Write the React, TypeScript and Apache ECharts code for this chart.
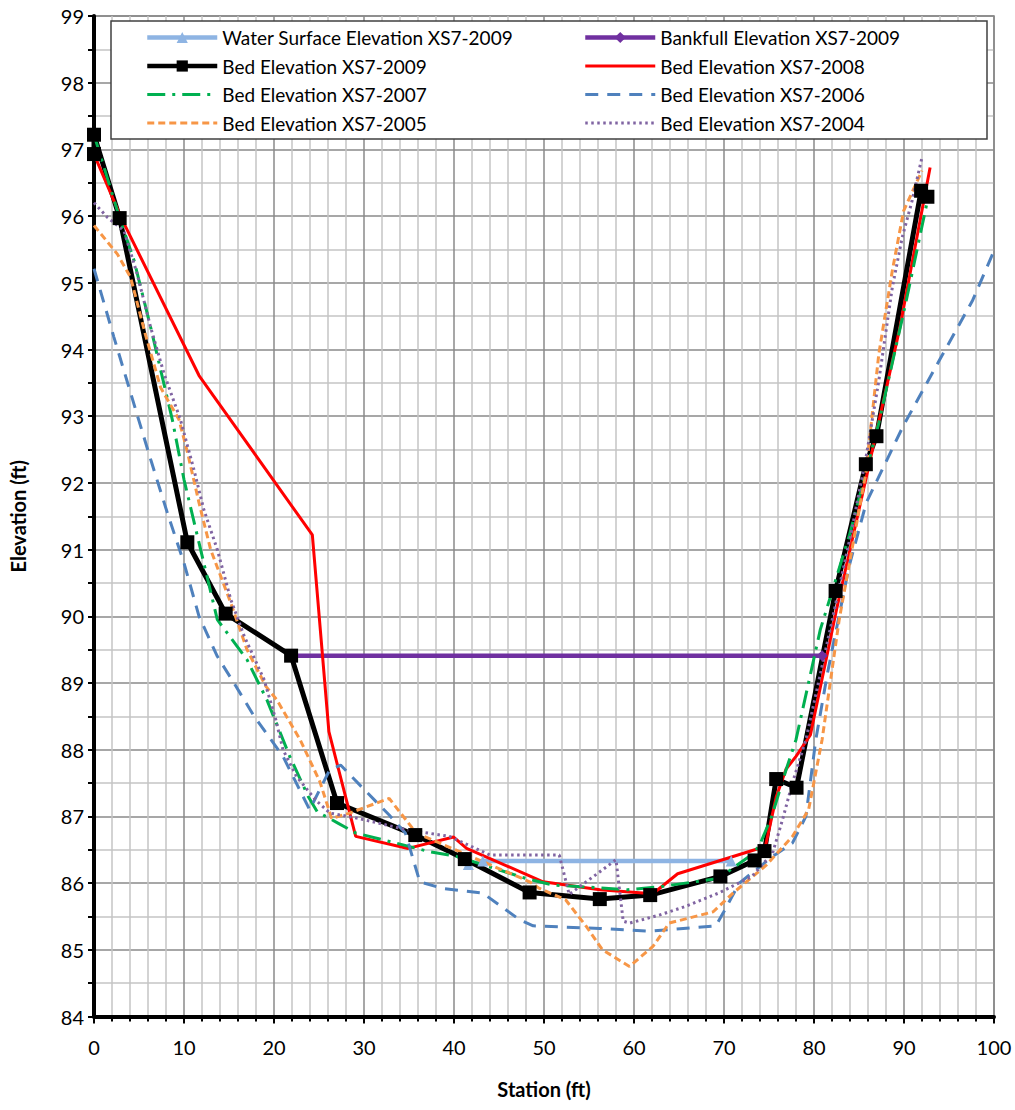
import React, { useEffect, useRef } from 'react';
import * as echarts from 'echarts';

const FONT = 'Lato, "Noto Sans", "DejaVu Sans", sans-serif';

const xTicks = [0, 10, 20, 30, 40, 50, 60, 70, 80, 90, 100];
const yTicks = [84, 85, 86, 87, 88, 89, 90, 91, 92, 93, 94, 95, 96, 97, 98, 99];

const waterSurface2009: [number, number][] = [
  [41.6, 86.28], [43.2, 86.33], [70.8, 86.33],
];

const bankfull2009: [number, number][] = [
  [21.9, 89.41], [80.9, 89.41],
];

const bed2009: [number, number][] = [
  [0, 96.93], [0, 97.22], [2.85, 95.97], [10.37, 91.11], [14.63, 90.04], [21.9, 89.41],
  [27.0, 87.2], [35.7, 86.72], [41.2, 86.36], [48.4, 85.86], [56.2, 85.76], [61.8, 85.82],
  [69.6, 86.1], [73.4, 86.34], [74.5, 86.48], [75.8, 87.56], [78.06, 87.43], [82.4, 90.38],
  [85.76, 92.28], [86.94, 92.7], [91.9, 96.38], [92.6, 96.29],
];

const bed2008: [number, number][] = [
  [0, 96.93], [3.0, 95.98], [11.67, 93.61], [24.26, 91.22], [26.1, 88.27], [29.08, 86.7],
  [34.9, 86.52], [39.96, 86.69], [41.4, 86.52], [49.9, 86.02], [56.2, 85.9], [62.1, 85.84],
  [64.85, 86.14], [74.6, 86.55], [75.8, 87.29], [76.9, 87.71], [78.0, 87.9], [79.6, 88.22],
  [82.5, 90.1], [86.5, 92.5], [89.5, 94.3], [92.9, 96.73],
];

const bed2007: [number, number][] = [
  [0, 97.22], [2.85, 95.97], [4.44, 95.34], [6.3, 94.33], [8.7, 92.95], [10.0, 92.05],
  [11.67, 91.1], [13.7, 89.95], [17.0, 89.35], [19.2, 88.75], [21.75, 87.9], [23.8, 87.3],
  [24.8, 87.07], [27.1, 86.9], [29.1, 86.75], [32.1, 86.65], [37.3, 86.47], [40.3, 86.4],
  [48.0, 86.07], [51.0, 85.97], [56.2, 85.93], [59.3, 85.9], [63.1, 85.95], [69.4, 86.07],
  [72.8, 86.4], [73.9, 86.55], [75.3, 87.0], [76.9, 87.7], [78.0, 88.15], [80.7, 89.8],
  [83.9, 91.2], [87.2, 92.9], [90.2, 94.7], [92.6, 96.23],
];

const bed2006: [number, number][] = [
  [0, 95.21], [2.2, 94.19], [5.0, 92.93], [6.3, 92.35], [8.15, 91.55], [10.0, 90.8],
  [11.67, 90.0], [13.7, 89.4], [15.55, 89.0], [17.8, 88.5], [21.0, 87.9], [23.96, 87.1],
  [26.2, 87.7], [27.4, 87.77], [29.9, 87.42], [32.8, 87.02], [34.6, 86.75], [36.2, 86.02],
  [38.7, 85.92], [43.2, 85.85], [47.3, 85.45], [48.8, 85.36], [56.2, 85.32], [61.7, 85.28],
  [69.1, 85.36], [69.9, 85.55], [71.7, 86.0], [75.4, 86.4], [77.6, 86.6], [79.1, 87.0],
  [80.2, 88.15], [81.5, 89.15], [83.9, 90.75], [85.8, 91.7], [89.9, 92.85], [93.9, 93.83],
  [97.6, 94.73], [100, 95.48],
];

const bed2005: [number, number][] = [
  [0, 95.86], [2.6, 95.43], [4.07, 95.08], [5.7, 94.23], [7.4, 93.43], [9.44, 92.95],
  [10.4, 92.45], [11.67, 91.7], [12.96, 91.0], [15.2, 90.2], [17.0, 89.5], [19.1, 88.95],
  [20.3, 88.75], [22.9, 88.15], [25.1, 87.52], [26.4, 86.97], [28.4, 87.05], [32.8, 87.27],
  [35.8, 86.75], [41.0, 86.45], [48.4, 86.02], [49.5, 85.92], [52.4, 85.75], [54.7, 85.35],
  [56.5, 85.0], [59.5, 84.75], [62.1, 85.05], [63.9, 85.4], [68.8, 85.57], [71.0, 85.85],
  [74.7, 86.27], [77.6, 86.7], [79.4, 87.1], [80.9, 88.15], [82.8, 89.95], [85.76, 92.15],
  [87.2, 93.93], [88.7, 95.18], [89.96, 96.08], [92.0, 96.68],
];

const bed2004: [number, number][] = [
  [0, 96.2], [1.5, 95.98], [3.33, 95.78], [4.8, 95.13], [6.3, 94.33], [7.8, 93.63],
  [9.6, 92.95], [11.1, 92.2], [12.2, 91.6], [13.7, 91.0], [15.2, 90.25], [16.7, 89.7],
  [18.9, 89.05], [20.2, 88.45], [21.0, 88.0], [22.5, 87.6], [24.6, 87.25], [26.2, 87.05],
  [29.4, 86.97], [34.7, 86.8], [39.5, 86.7], [44.0, 86.42], [51.7, 86.42], [52.8, 85.83],
  [58.0, 86.35], [58.8, 85.43], [59.5, 85.4], [62.8, 85.52], [65.7, 85.65], [69.4, 85.85],
  [73.1, 86.1], [75.4, 86.45], [76.5, 86.95], [77.6, 87.5], [79.1, 88.15], [81.3, 89.5],
  [84.2, 91.3], [85.8, 92.4], [87.2, 93.53], [88.7, 94.93], [89.8, 95.68], [90.9, 96.23],
  [92.0, 96.88],
];

const N_WSE = 'Water Surface Elevation XS7-2009';
const N_BANK = 'Bankfull Elevation XS7-2009';
const N_2009 = 'Bed Elevation XS7-2009';
const N_2008 = 'Bed Elevation XS7-2008';
const N_2007 = 'Bed Elevation XS7-2007';
const N_2006 = 'Bed Elevation XS7-2006';
const N_2005 = 'Bed Elevation XS7-2005';
const N_2004 = 'Bed Elevation XS7-2004';

export default function App() {
  const ref = useRef<HTMLDivElement>(null);
  useEffect(() => {
    const chart = echarts.init(ref.current!, null, { renderer: 'svg' });
    const lineSeries = (name: string, data: [number, number][], color: string, width: number, type: any, symbol = 'none', symbolSize = 0) => {
      const hasSymbol = symbol !== 'none';
      return {
        name,
        type: 'line',
        data,
        symbol: hasSymbol ? symbol : 'circle',
        symbolSize: hasSymbol ? symbolSize : 1,
        showSymbol: hasSymbol,
        itemStyle: { color, opacity: hasSymbol ? 1 : 0 },
        lineStyle: { color, width, type, cap: 'butt', opacity: 1 },
        emphasis: { disabled: true },
        silent: true,
      };
    };
    const legendCommon = {
      orient: 'vertical',
      top: 23,
      itemWidth: 70,
      itemHeight: 14,
      itemGap: 9.5,
      selectedMode: false,
      lineStyle: { width: 3 },
      textStyle: { fontFamily: FONT, fontSize: 19, color: '#000' },
    };
    const thick = (name: string) => ({ name, lineStyle: { width: 4.5 } });
    chart.setOption({
      animation: false,
      backgroundColor: '#fff',
      grid: {
        left: 94, right: 21, top: 16, bottom: 93.5,
        show: true, borderColor: '#808080', borderWidth: 1.5, backgroundColor: 'transparent',
      },
      xAxis: {
        type: 'value', min: 0, max: 100, interval: 10,
        name: 'Station (ft)', nameLocation: 'middle', nameGap: 62,
        nameTextStyle: { fontFamily: FONT, fontSize: 20, fontWeight: 'bold', color: '#000' },
        axisLine: { show: true, onZero: false, lineStyle: { color: '#000', width: 4 } },
        axisTick: { show: true, length: 7, lineStyle: { color: '#000', width: 2 } },
        minorTick: { show: true, splitNumber: 5, length: 5, lineStyle: { color: '#000', width: 2 } },
        splitLine: { show: true, lineStyle: { color: '#8a8a8a', width: 1.5 } },
        minorSplitLine: { show: true, lineStyle: { color: '#c4c4c4', width: 1.5 } },
        axisLabel: {
          fontFamily: FONT, fontSize: 20, color: '#000', margin: 20,
          formatter: (v: number) => (xTicks.includes(v) ? String(v) : ''),
        },
      },
      yAxis: {
        type: 'value', min: 84, max: 99, interval: 1,
        name: 'Elevation (ft)', nameLocation: 'middle', nameGap: 66, nameRotate: 90,
        nameTextStyle: { fontFamily: FONT, fontSize: 20, fontWeight: 'bold', color: '#000' },
        axisLine: { show: true, onZero: false, lineStyle: { color: '#000', width: 4 } },
        axisTick: { show: true, length: 6, lineStyle: { color: '#000', width: 2 } },
        minorTick: { show: true, splitNumber: 2, length: 6, lineStyle: { color: '#000', width: 2 } },
        splitLine: { show: true, lineStyle: { color: '#8a8a8a', width: 1.5 } },
        minorSplitLine: { show: true, lineStyle: { color: '#c4c4c4', width: 1.5 } },
        axisLabel: {
          fontFamily: FONT, fontSize: 20, color: '#000', margin: 10,
          formatter: (v: number) => (yTicks.includes(v) ? String(v) : ''),
        },
      },
      graphic: {
        elements: [
          {
            type: 'rect', z: 3, silent: true,
            shape: { x: 111, y: 21, width: 876, height: 118 },
            style: { fill: '#fff', stroke: '#404040', lineWidth: 1.5 },
          },
        ],
      },
      legend: [
        { ...legendCommon, left: 140, data: [thick(N_WSE), thick(N_2009), N_2007, N_2005] },
        { ...legendCommon, left: 578, data: [thick(N_BANK), N_2008, N_2006, N_2004] },
      ],
      series: [
        lineSeries(N_WSE, waterSurface2009, '#8EB4E3', 4.5, 'solid', 'triangle', 11),
        lineSeries(N_BANK, bankfull2009, '#7030A0', 4.5, 'solid', 'diamond', 11),
        lineSeries(N_2009, bed2009, '#000000', 5, 'solid', 'rect', 14),
        lineSeries(N_2008, bed2008, '#FF0000', 3, 'solid'),
        lineSeries(N_2007, bed2007, '#00B050', 3, [18, 7, 3, 7]),
        lineSeries(N_2006, bed2006, '#4F81BD', 3, [13, 9]),
        lineSeries(N_2005, bed2005, '#F79646', 3, [7, 4]),
        lineSeries(N_2004, bed2004, '#8064A2', 3, [2.5, 3.5]),
      ],
    });
    return () => chart.dispose();
  }, []);
  return (
    <div
      ref={ref}
      style={{ position: 'absolute', left: 0, top: 0, width: 1015, height: 1110, background: '#fff' }}
    />
  );
}
